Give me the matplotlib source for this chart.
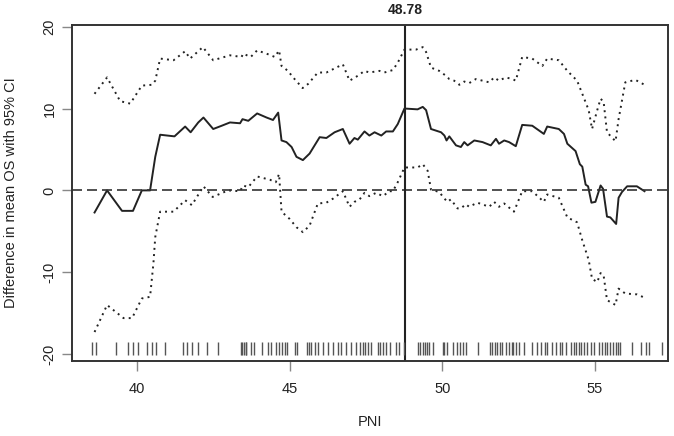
import numpy as np
import matplotlib
matplotlib.use('Agg')
import matplotlib.pyplot as plt

plt.rcParams['font.family'] = ['Liberation Sans', 'DejaVu Sans']

# cut-off value of PNI
cutoff = 48.78

# estimated difference in mean OS (solid line)
est_x = [38.60, 39.01, 39.50, 39.86, 40.15, 40.42, 40.59, 40.75, 41.22, 41.57,
         41.75, 42.00, 42.17, 42.49, 42.77, 43.04, 43.37, 43.45, 43.64, 43.93,
         44.24, 44.45, 44.62, 44.73, 44.89, 45.06, 45.22, 45.43, 45.65, 45.98,
         46.20, 46.47, 46.74, 46.96, 47.12, 47.23, 47.45, 47.61, 47.78, 48.00,
         48.16, 48.38, 48.54, 48.76, 49.19, 49.36, 49.47, 49.63, 49.96, 50.07,
         50.14, 50.23, 50.45, 50.61, 50.72, 50.83, 51.05, 51.32, 51.59, 51.76,
         51.86, 52.03, 52.19, 52.41, 52.62, 52.95, 53.33, 53.44, 53.82, 53.99,
         54.10, 54.37, 54.51, 54.59, 54.70, 54.78, 54.89, 55.02, 55.19, 55.27,
         55.40, 55.51, 55.70, 55.78, 55.89, 56.06, 56.38, 56.63]
est_y = [-2.7, 0.0, -2.5, -2.5, 0.0, 0.0, 4.1, 6.8, 6.6, 7.8,
         7.1, 8.3, 8.9, 7.5, 7.9, 8.3, 8.2, 8.7, 8.5, 9.4,
         8.9, 8.6, 9.5, 6.1, 5.9, 5.3, 4.1, 3.7, 4.5, 6.5,
         6.4, 7.1, 7.5, 5.7, 6.4, 6.2, 7.2, 6.7, 7.1, 6.7,
         7.2, 7.2, 8.1, 10.0, 9.9, 10.2, 9.8, 7.5, 7.1, 6.7,
         6.1, 6.6, 5.5, 5.3, 5.9, 5.5, 6.1, 5.9, 5.5, 6.3,
         5.7, 6.1, 5.9, 5.4, 8.0, 7.9, 6.9, 7.8, 7.5, 6.9,
         5.7, 4.8, 3.2, 2.9, 0.7, 0.5, -1.5, -1.4, 0.6, 0.2,
         -3.2, -3.3, -4.1, -0.9, -0.2, 0.5, 0.5, -0.1]

# upper 95% CI (dotted)
up_x = [38.60, 39.01, 39.44, 39.77, 40.15, 40.48, 40.59, 40.75, 41.19, 41.57,
        41.73, 42.15, 42.49, 43.04, 43.42, 43.47, 43.72, 43.93, 44.24, 44.51,
        44.65, 44.73, 44.94, 45.11, 45.42, 45.60, 45.92, 46.20, 46.74, 46.96,
        47.23, 47.45, 47.61, 47.94, 48.10, 48.38, 48.54, 48.76, 49.14, 49.36,
        49.47, 49.63, 49.90, 50.12, 50.23, 50.39, 50.56, 50.72, 50.88, 51.10,
        51.32, 51.54, 51.70, 51.86, 52.08, 52.30, 52.41, 52.62, 52.95, 53.28,
        53.44, 53.82, 54.10, 54.42, 54.59, 54.80, 54.91, 55.08, 55.19, 55.29,
        55.40, 55.68, 55.78, 56.00, 56.33, 56.63]
up_y = [11.8, 13.8, 10.9, 10.6, 12.8, 12.9, 13.4, 16.1, 15.9, 17.0,
        16.1, 17.5, 15.9, 16.5, 16.3, 16.7, 16.3, 17.1, 16.7, 16.3,
        17.1, 15.2, 14.6, 13.8, 12.5, 13.0, 14.4, 14.4, 15.4, 13.4,
        14.0, 14.6, 14.4, 14.6, 14.4, 14.7, 15.6, 17.2, 17.2, 17.5,
        16.9, 15.0, 14.6, 14.0, 13.6, 13.4, 12.9, 13.3, 13.1, 13.6,
        13.4, 13.2, 13.8, 13.4, 13.8, 13.6, 13.4, 16.3, 16.1, 15.2,
        16.1, 15.9, 14.6, 13.4, 11.8, 9.8, 7.5, 9.8, 11.2, 10.8,
        7.1, 6.0, 8.7, 13.2, 13.5, 12.9]

# lower 95% CI (dotted)
lo_x = [38.60, 39.01, 39.55, 39.83, 40.15, 40.42, 40.53, 40.59, 40.75, 41.19,
        41.57, 41.79, 42.17, 42.47, 42.98, 43.37, 43.47, 43.64, 43.93, 44.35,
        44.54, 44.65, 44.73, 45.00, 45.22, 45.43, 45.65, 45.92, 46.20, 46.42,
        46.74, 46.96, 47.12, 47.29, 47.45, 47.61, 47.83, 48.05, 48.27, 48.38,
        48.54, 48.76, 49.19, 49.36, 49.52, 49.63, 49.90, 50.07, 50.17, 50.28,
        50.50, 50.61, 50.77, 50.88, 51.15, 51.54, 51.70, 51.86, 52.03, 52.35,
        52.62, 52.95, 53.33, 53.44, 53.82, 54.10, 54.42, 54.59, 54.80, 54.91,
        55.08, 55.19, 55.29, 55.40, 55.68, 55.78, 56.00, 56.38, 56.63]
lo_y = [-17.3, -14.0, -15.6, -15.6, -13.2, -13.0, -8.9, -5.7, -2.6, -2.6,
        -1.2, -1.8, 0.5, -0.8, 0.0, -0.1, 0.6, 0.4, 1.7, 1.3,
        1.0, 2.0, -2.6, -3.5, -4.5, -5.1, -4.3, -1.6, -1.5, -1.0,
        -0.1, -2.0, -1.4, -1.1, -0.3, -0.7, -0.3, -0.7, -0.1, -0.1,
        1.0, 2.8, 2.8, 3.2, 2.4, 0.1, -0.2, -1.0, -1.4, -1.1,
        -2.2, -2.2, -1.7, -2.0, -1.5, -2.0, -1.4, -2.0, -1.6, -2.6,
        -0.1, -0.1, -1.4, -0.5, -0.9, -3.3, -3.9, -6.1, -8.5, -10.8,
        -11.2, -10.1, -10.4, -13.4, -14.0, -12.0, -12.6, -12.7, -13.1]

# observed PNI values (rug)
rug_pni = [38.52, 38.64, 39.31, 39.69, 39.85, 40.03, 40.32, 40.48, 40.60, 40.92,
           41.51, 41.62, 41.81, 41.99, 42.29, 42.66, 43.40, 43.45, 43.50, 43.55,
           43.58, 43.73, 43.83, 44.09, 44.29, 44.38, 44.54, 44.64, 44.73, 44.84,
           44.92, 45.16, 45.25, 45.55, 45.63, 45.71, 45.82, 45.92, 46.09, 46.25,
           46.42, 46.58, 46.69, 46.85, 47.02, 47.18, 47.29, 47.40, 47.48, 47.58,
           47.67, 47.89, 47.96, 48.05, 48.16, 48.27, 48.49, 48.59, 48.74, 49.19,
           49.27, 49.36, 49.44, 49.49, 49.55, 49.68, 50.01, 50.07, 50.14, 50.36,
           50.47, 50.58, 50.69, 50.77, 51.18, 51.57, 51.64, 51.72, 51.81, 51.90,
           51.97, 52.08, 52.19, 52.27, 52.33, 52.41, 52.52, 52.68, 52.95, 53.11,
           53.23, 53.36, 53.44, 53.60, 53.72, 53.86, 53.93, 54.04, 54.21, 54.31,
           54.40, 54.48, 54.55, 54.64, 54.73, 54.86, 54.99, 55.13, 55.24, 55.33,
           55.40, 55.51, 55.59, 55.68, 55.76, 55.84, 56.22, 56.53, 56.69, 56.79,
           57.20]

xticks = [40, 45, 50, 55]
yticks = [-20, -10, 0, 10, 20]

##
# plotting

fig = plt.figure(figsize=(6.74, 4.36), dpi=100)
ax = fig.add_axes([0.1068, 0.172, 0.8843, 0.7706])

ink = '#222222'
ax.plot(est_x, est_y, color=ink, lw=1.4)
ax.plot(up_x, up_y, color=ink, lw=1.4, linestyle=(0, (1, 2.2)))
ax.plot(lo_x, lo_y, color=ink, lw=1.4, linestyle=(0, (1, 2.2)))
ax.axhline(0, color='#333333', lw=1.2, dashes=(6, 3))
ax.axvline(cutoff, color=ink, lw=1.5)
ax.vlines(rug_pni, -20.1, -18.5, color='#555555', lw=1.0)

ax.set_xlim(37.86, 57.40)
ax.set_ylim(-20.84, 20.2)
ax.set_xticks(xticks)
ax.set_yticks(yticks)
ax.set_yticklabels([str(v) for v in yticks], rotation=90, va='center')
ax.tick_params(axis='both', length=7, width=1, color='#888888',
               labelsize=10.5, labelcolor='#222222')
ax.tick_params(axis='x', pad=8)
ax.tick_params(axis='y', pad=4)
for sp in ax.spines.values():
    sp.set_color('#333333')
    sp.set_linewidth(1.4)

ax.set_xlabel('PNI', fontsize=10.5, labelpad=14, color='#222222')
ax.set_ylabel('Difference in mean OS with 95% CI', fontsize=10.5,
              labelpad=18, color='#222222')
ax.text(cutoff, 1.025, '%.2f' % cutoff, transform=ax.get_xaxis_transform(),
        ha='center', va='bottom', fontsize=10, fontweight='bold', color='#222222')

plt.savefig('out.png', dpi=100)
